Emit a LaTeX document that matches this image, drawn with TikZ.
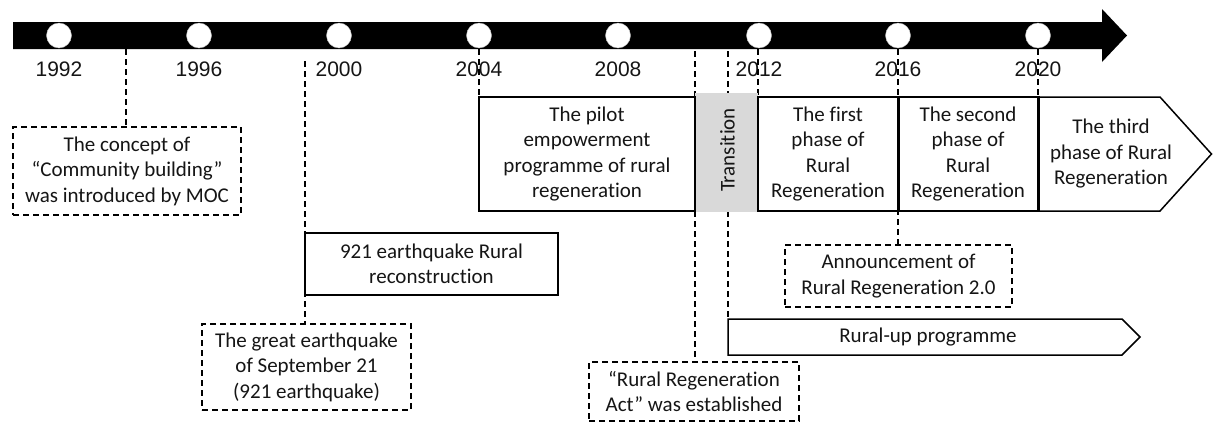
\documentclass[tikz,border=0pt]{standalone}
\usepackage{fontspec}
\setmainfont{Carlito}[Ligatures=NoCommon]
\newfontfamily\arialfont{Liberation Sans}
\definecolor{txt}{HTML}{151515}
\definecolor{transgray}{HTML}{D9D9D9}
\begin{document}
\begin{tikzpicture}[x=1pt,y=-1pt,
  boxfont/.style={font=\fontsize{21}{25.5}\selectfont, text=txt, align=center},
  solidbox/.style={boxfont, draw=black, line width=1.5pt, fill=white, inner sep=0pt},
  dashbox/.style={boxfont, draw=black, line width=1.5pt, dash pattern=on 6pt off 4pt, fill=white, inner sep=0pt},
  leader/.style={draw=black, line width=1.6pt, dash pattern=on 6pt off 4pt},
  yearlabel/.style={font=\arialfont\fontsize{21}{24}\selectfont, text=txt, inner sep=0pt},
  yeardot/.style={circle, fill=white, draw=gray!50, line width=0.4pt, minimum size=25pt, inner sep=0pt}]
\useasboundingbox (0,0) rectangle (1213,423);

% time axis with arrow head
\fill[black] (13,22) -- (1102,22) -- (1102,9) -- (1127,35.5) -- (1102,62) -- (1102,49) -- (13,49) -- cycle;
\coordinate (barS) at (0,49);
\coordinate (barL) at (0,51);

% year markers and labels
\foreach \yr/\xx in {1992/59,1996/199,2000/339,2004/479,2008/618,2012/759,2016/898,2020/1038}{
  \node[yeardot] (y\yr) at (\xx,35.5) {};
  \node[yearlabel] (lab\yr) at (\xx,69) {\yr};
}

\coordinate (c2000) at (305,61);

% leaders from the axis down to the events
\draw[leader] (barS -| 126,0) -- (126,127);
\draw[leader] (c2000) -- (305,324);
\draw[leader] (barS -| 479,0) -- (479,97);
\draw[leader] (barL -| 695,0) -- (695,362);
\draw[leader] (barL -| 728,0) -- (728,319);
\draw[leader] (barS -| 758,0) -- (758,97);
\draw[leader] (barS -| 898,0) -- (898,245);
\draw[leader] (barS -| 1038,0) -- (1038,97);

% transition period
\node[fill=transgray, minimum width=63pt, minimum height=119pt, inner sep=0pt] (trans) at (726.5,152.5) {};
\node[boxfont, rotate=90] (transtxt) at (727.5,150) {Transition};

% dashed event boxes
\node[dashbox, minimum width=228pt, minimum height=88pt] (concept) at (127,171)
  {The concept of\\“Community building”\\was introduced by MOC};
\node[dashbox, minimum width=209pt, minimum height=86pt] (great) at (306.5,367)
  {The great earthquake\\of September 21\\(921 earthquake)};
\node[dashbox, minimum width=210pt, minimum height=59pt] (act) at (694,391.5)
  {“Rural Regeneration\\Act” was established};
\node[dashbox, minimum width=227pt, minimum height=62pt] (announce) at (898.5,276)
  {Announcement of\\Rural Regeneration 2.0};

% solid programme boxes
\node[solidbox, minimum width=253pt, minimum height=62pt] (quake) at (431.5,264)
  {921 earthquake Rural\\reconstruction};
\node[solidbox, minimum width=216pt, minimum height=114pt] (pilot) at (587,154)
  {The pilot\\empowerment\\programme of rural\\regeneration};
\node[solidbox, minimum width=140pt, minimum height=114pt] (phase1) at (828,154)
  {The first\\phase of\\Rural\\Regeneration};
\node[solidbox, minimum width=140pt, minimum height=114pt] (phase2) at (968,154)
  {The second\\phase of\\Rural\\Regeneration};
\draw[line width=1.5pt, fill=white] (1038,97) -- (1160,97) -- (1211.5,154) -- (1160,211) -- (1038,211) -- cycle;
\node[boxfont, inner sep=0pt] (phase3) at (1111,154) {The third\\phase of Rural\\Regeneration};
\draw[line width=2.4pt] (phase1.north east) -- (phase1.south east);
\draw[line width=2.4pt] (phase2.north east) -- (phase2.south east);

% Rural-up programme arrow
\draw[line width=1.5pt, fill=white] (728,319) -- (1122,319) -- (1140,337) -- (1122,355) -- (728,355) -- cycle;
\node[boxfont, inner sep=0pt] (ruralup) at (928,337) {Rural-up programme};
\end{tikzpicture}
\end{document}
